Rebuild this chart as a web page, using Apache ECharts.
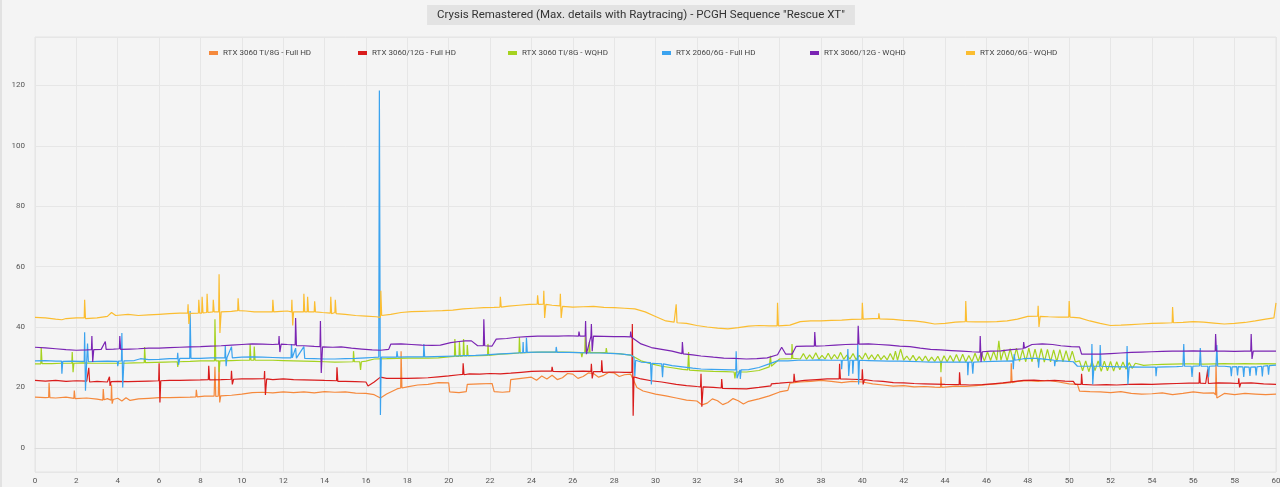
<!DOCTYPE html>
<html>
<head>
<meta charset="utf-8">
<script src="https://cdn.jsdelivr.net/npm/echarts@6/dist/echarts.min.js"></script>
<style>
  html, body { margin: 0; padding: 0; background: #f4f4f4; }
  #chart { width: 1280px; height: 487px; box-sizing: border-box; border-left: 2px solid #e2e2e2; }
</style>
</head>
<body>
<div id="chart"></div>
<script>
var chartTitle = 'Crysis Remastered (Max. details with Raytracing) - PCGH Sequence "Rescue XT"';
var seriesNames = [
  "RTX 3060 Ti/8G - Full HD",
  "RTX 3060/12G - Full HD",
  "RTX 3060 Ti/8G - WQHD",
  "RTX 2060/6G - Full HD",
  "RTX 3060/12G - WQHD",
  "RTX 2060/6G - WQHD",
];
var seriesColors = ["#f5893c", "#d91c1c", "#a5d21f", "#3ba3ef", "#7a24b3", "#fbbd30"];
var legendLefts = [207, 356, 506, 660, 808, 964];

// [seconds, frametime ms]
var ti8FullHd = [[0,16.8],[0.5,16.6],[0.66,16.7],[0.68,21.5],[0.72,16.6],[1,16.5],[1.5,16.8],[1.88,16.4],[1.9,19],[1.94,16.3],[2.5,16.5],[3,16.1],[3.28,15.8],[3.3,19.5],[3.34,15.9],[3.5,16.3],[3.68,15.8],[3.7,21],[3.73,14.6],[3.78,16],[4,16.4],[4.2,15.5],[4.4,16.6],[4.6,15.7],[5,16.2],[5.5,16.4],[6,16.6],[6.5,16.6],[7,16.7],[7.5,16.8],[7.78,16.9],[7.8,19.2],[7.84,16.9],[8.2,17.1],[8.66,17.1],[8.7,26.8],[8.74,17],[8.86,17.1],[8.9,28.8],[8.93,15],[8.98,17.2],[9.5,17.4],[10,17.8],[10.5,18.3],[11,18.4],[11.5,18.2],[12,18.5],[12.5,18.3],[13,18.5],[13.5,18.2],[14,18.6],[14.5,18.4],[15,18.5],[15.5,18.1],[16,18],[16.4,17.6],[16.7,16.5],[17,17.8],[17.5,19.5],[17.68,19.8],[17.7,32],[17.74,19.8],[18,20.2],[18.5,20.8],[19,21],[19.5,21.6],[20,21.5],[20.05,18.5],[20.5,18.3],[20.85,18.6],[20.9,21],[21.5,21.2],[22.1,21.3],[22.2,18.6],[22.6,18.4],[22.95,18.6],[23,22.6],[23.5,23],[24,23.4],[24.25,22.4],[24.5,23.8],[24.75,22.8],[25,24],[25.25,22.6],[25.5,23.2],[25.75,24.6],[26,24.4],[26.25,23],[26.5,23.6],[26.75,24.8],[27,24.6],[27.25,23.4],[27.5,24],[27.75,25],[28,24.8],[28.25,23.6],[28.5,24.2],[28.8,24.4],[29.1,20],[29.4,18.8],[30,17.8],[30.5,17.2],[31,16.5],[31.5,15.8],[32,15.5],[32.25,14.2],[32.5,14.8],[32.75,16.2],[33,15.6],[33.25,14.3],[33.5,15],[33.75,16.3],[34,15.6],[34.25,14.5],[34.5,15.4],[35,16.2],[35.5,17.2],[36,18.5],[36.4,19],[36.5,21.4],[37,21.8],[37.5,22],[38,22.3],[38.5,22],[39,21.6],[39.5,22],[40,21.8],[40.5,21.2],[41,20.8],[41.5,20.4],[42,20.6],[42.5,20.2],[43,20.3],[43.5,20.1],[43.78,20],[43.8,23.5],[43.84,20],[44.5,20.4],[45,20.3],[45.5,20.6],[46,20.9],[46.5,21.2],[47,21.5],[47.18,21.6],[47.2,28],[47.24,21.6],[47.5,22],[48,22.2],[48.5,22],[49,22.3],[49.5,21.8],[50,21.2],[50.4,21],[50.5,18.8],[51,18.6],[51.5,18.5],[52,18.3],[52.5,18.6],[53,18],[53.5,17.8],[54,17.9],[54.5,18.2],[55,17.6],[55.5,18],[56,18.5],[56.5,18.1],[57,18.2],[57.08,17.5],[57.1,28],[57.14,16.5],[57.5,18],[58,17.6],[58.5,18],[59,17.8],[59.5,17.6],[60,17.8]];

var r12FullHd = [[0,22.3],[0.5,22.1],[1,22.3],[1.5,22],[2,22.2],[2.5,22.1],[2.58,22],[2.6,26.5],[2.64,21.8],[3,22],[3.5,21.8],[3.58,21.6],[3.6,23.5],[3.63,20.5],[3.68,21.9],[4,22],[4.5,21.9],[5,22],[5.5,22.1],[5.98,22.2],[6,28],[6.04,15],[6.08,22.2],[6.5,22.3],[7,22.3],[7.5,22.4],[8,22.5],[8.38,22.6],[8.4,27.2],[8.44,22.5],[9,22.6],[9.48,22.7],[9.5,25.5],[9.54,21],[9.6,22.7],[10,22.8],[10.5,22.8],[11.08,22.9],[11.1,25.4],[11.14,17.5],[11.2,22.8],[11.5,22.6],[12,22.8],[12.5,22.6],[13,22.5],[13.5,22.4],[14,22.3],[14.58,22.2],[14.6,26.7],[14.64,22],[15,22],[15.5,21.9],[16,21.8],[16.1,20.5],[16.4,21.8],[16.7,23.4],[17,23],[17.5,23],[18,23],[18.5,23.1],[19,23.2],[19.5,23.5],[20,23.8],[20.5,24.2],[20.68,24.3],[20.7,28],[20.74,24.2],[21,24.5],[21.5,24.4],[22,24.6],[22.5,24.5],[23,24.7],[23.5,25],[24,25.3],[24.5,25.4],[24.98,25.4],[25,26.8],[25.04,25.3],[25.5,25.2],[26,25.3],[26.5,25.4],[26.88,25.3],[26.9,27.8],[26.94,23],[27,25.2],[27.38,25.2],[27.4,29],[27.44,25],[28,25.1],[28.5,25],[28.86,25],[28.88,41],[28.92,10.6],[28.96,23.5],[29.3,22.8],[29.8,22.2],[30.3,21.8],[31,21],[31.5,20.6],[32,20.3],[32.18,20.2],[32.2,24.5],[32.24,13.6],[32.3,20.2],[32.8,20],[33.18,19.8],[33.2,22.8],[33.24,19.7],[33.8,19.6],[34.4,19.5],[35,20],[35.58,20.5],[35.6,21.2],[35.64,20.6],[36,21.4],[36.68,21.8],[36.7,24.5],[36.74,21.9],[37.2,22.3],[37.8,22.6],[38.3,22.8],[38.88,22.8],[38.9,27.8],[38.94,22.8],[39.5,22.7],[39.98,22.6],[40,26],[40.04,21],[40.1,22.6],[40.5,22.2],[41,22],[41.5,21.6],[42,21.5],[42.5,21.3],[43,21.2],[43.5,21.1],[44,21],[44.68,20.9],[44.7,25],[44.74,20.9],[45.2,20.8],[45.8,20.9],[46.3,21.2],[46.8,21.5],[47.3,21.9],[47.8,22.3],[48.3,22.4],[48.8,22.2],[49.3,22.3],[49.8,22.1],[50.2,22],[50.3,21],[50.58,21],[50.6,24.5],[50.64,21],[51.2,20.8],[51.8,20.9],[52.3,20.8],[52.9,21],[53.5,21.1],[54,21],[54.6,21.2],[55.2,21.3],[55.8,21.4],[56.28,21.4],[56.3,25],[56.34,21.4],[56.6,21.3],[56.68,21.2],[56.7,26],[56.73,21.3],[57.2,21.5],[57.8,21.4],[58.18,21.3],[58.2,23],[58.24,20],[58.3,21.4],[58.8,21.5],[59.4,21.2],[60,21]];

var ti8Wqhd = [[0,27.8],[0.28,27.8],[0.3,33.4],[0.34,27.9],[0.8,27.9],[1.3,28],[1.78,28],[1.8,31.7],[1.84,25],[1.88,28],[2.3,28.1],[2.8,28],[3.3,28],[3.8,28],[4.3,28],[4.8,28.1],[5.28,28.2],[5.3,33.4],[5.34,28.2],[5.8,28.3],[6.3,28.4],[6.88,28.5],[6.9,26.8],[6.94,28.5],[7.5,28.6],[8,28.8],[8.5,28.8],[8.68,28.8],[8.7,42.6],[8.74,28.8],[8.88,28.8],[8.9,25],[8.94,28.8],[9.5,28.9],[10,29],[10.38,29],[10.4,34.4],[10.44,29],[10.58,29],[10.6,33.5],[10.64,29],[11,29],[11.5,29],[12,28.9],[12.5,28.8],[13,28.7],[13.5,28.6],[14,28.5],[14.5,28.4],[15.38,28.5],[15.4,32],[15.44,28.5],[15.7,28.5],[15.74,25.8],[15.78,28.5],[16,28.7],[16.4,29.4],[17,29.5],[17.5,29.6],[18,29.7],[18.5,29.7],[19,29.7],[19.5,29.8],[20.1,30.2],[20.28,30.3],[20.3,36],[20.34,30.3],[20.5,30.3],[20.52,35],[20.56,30.3],[20.7,30.4],[20.72,36],[20.76,30.4],[20.88,30.4],[20.9,34],[20.94,30.4],[21.5,30.5],[21.88,30.6],[21.9,34.4],[21.94,30.6],[22.5,31],[23,31.2],[23.4,31.4],[23.42,36.7],[23.46,31.4],[24,31.6],[24.5,31.7],[25,31.7],[25.5,31.7],[26,31.6],[26.4,31.5],[26.44,30],[26.48,31.5],[26.58,31.5],[26.6,36.7],[26.64,31.5],[26.78,31.5],[26.8,35],[26.84,31.5],[27.6,31.5],[27.62,33],[27.66,31.4],[28.2,31.2],[28.8,30.7],[29.3,28.8],[29.8,27.8],[30.3,27],[30.8,26.5],[31.3,26],[31.56,25.8],[31.6,31.7],[31.64,25.7],[32.2,25.5],[32.8,25.3],[33.4,25.2],[33.8,25.1],[33.84,23],[33.88,25.1],[34.4,25.1],[35,25.6],[35.5,26.8],[35.56,30.5],[35.6,27],[36,29.4],[36.58,29.5],[36.6,34.4],[36.64,29.6],
  [37,29.4],[37.15,31.2],[37.3,29.3],[37.45,30.8],[37.6,29.4],[37.75,31.5],[37.9,29.3],[38.05,30.6],[38.2,29.4],[38.35,31.3],[38.5,29.3],[38.65,30.9],[38.8,29.4],[38.95,31.6],[39.1,29.3],[39.25,30.7],[39.4,29.4],[39.55,31.2],[39.7,29.2],[39.85,30.6],[40,29.3],[40.15,31.4],[40.3,29.3],[40.45,30.8],[40.6,29.2],[40.75,31],[40.9,29.2],[41.05,30.5],[41.2,29.1],[41.35,31.2],[41.5,29.1],[41.6,32],[41.7,29],[41.85,32.7],[42,29],[42.15,30.4],[42.3,28.9],[42.45,30.6],[42.6,28.8],[42.75,30.2],[42.9,28.7],[43.05,30.4],[43.2,28.6],[43.35,30],[43.5,28.6],[43.65,30.3],[43.78,28.5],[43.8,25],[43.83,28.5],[43.95,30.5],[44.1,28.5],[44.25,30.6],[44.4,28.5],[44.55,30.9],[44.7,28.4],[44.85,31],[45,28.4],[45.15,30.6],[45.3,28.5],[45.45,31.3],[45.6,28.6],[45.75,31.6],[45.9,28.7],[46.05,31.8],[46.2,28.9],[46.35,32],[46.5,29],[46.6,35.4],[46.7,29],
  [46.85,32.5],[47,28.8],[47.15,32.8],[47.3,28.7],[47.45,33],[47.6,28.6],[47.75,32.5],[47.9,28.5],[48.05,33],[48.2,28.5],[48.35,32.7],[48.5,28.4],[48.65,32.8],[48.8,28.4],[48.95,32.6],[49.1,28.5],[49.25,32.4],[49.4,28.5],[49.55,32.5],[49.7,28.5],[49.85,32.2],[50,28.5],[50.15,32],[50.3,28.4],
  [50.5,28.8],[50.65,25.5],[50.8,28.8],[50.95,25.2],[51.1,28.7],[51.25,25.6],[51.4,28.8],[51.55,25.3],[51.7,28.7],[51.85,25.5],[52,28.6],[52.15,25.4],[52.3,28.5],[52.45,25.8],[52.6,28.4],[52.75,26],[52.9,28.2],[53.05,26.3],[53.2,28],[53.6,27.3],[54,27.5],[54.5,27.6],[55,27.7],[55.5,27.8],[56,27.8],[56.5,27.7],[57,27.8],[57.5,27.9],[58,27.8],[58.5,27.9],[59,27.8],[59.5,27.9],[60,27.8]];

var r2060FullHd = [[0,28.8],[0.5,28.9],[1,28.7],[1.28,28.7],[1.3,24.5],[1.34,28.6],[1.8,28.7],[2.2,28.6],[2.38,28.6],[2.4,38.3],[2.44,18.9],[2.5,28.7],[2.54,34.5],[2.58,28.5],[3,28.6],[3.5,28.7],[3.98,28.6],[4,27],[4.04,28.7],[4.18,28.8],[4.2,38],[4.24,20],[4.3,28.8],[4.8,28.9],[5.1,29.5],[5.5,29.2],[6,29.3],[6.5,29.5],[6.88,29.5],[6.9,31.5],[6.94,27.5],[7,29.6],[7.48,29.6],[7.5,45.3],[7.54,29.6],[8,29.6],[8.5,29.8],[9.18,29.8],[9.2,33.7],[9.24,27],[9.28,29.8],[9.5,33.5],[9.54,29.8],[10,30],[10.5,30.1],[11,30],[11.5,29.9],[12,29.8],[12.38,29.8],[12.4,34.4],[12.44,29.8],[12.6,33],[12.64,29.7],[13,33.5],[13.04,29.6],[13.5,29.5],[14,29.4],[14.5,29.4],[15,29.5],[15.5,29.6],[16,29.8],[16.3,29.9],[16.62,30],[16.65,118.3],[16.7,10.9],[16.74,30],[17,30],[17.48,30],[17.5,32],[17.54,30],[18,30.1],[18.5,30.1],[18.78,30.1],[18.8,34.4],[18.84,30.1],[19.3,30.2],[19.8,30.3],[20.3,30.4],[20.8,30.5],[21.3,30.6],[21.8,30.8],[22.3,31],[22.8,31.2],[23.3,31.4],[23.58,31.5],[23.6,35],[23.62,31.5],[23.74,31.6],[23.76,36.4],[23.8,31.6],[24.3,31.7],[24.8,31.7],[25.18,31.7],[25.2,33.4],[25.24,31.6],[25.8,31.6],[26.3,31.5],[26.8,31.4],[27.3,31.4],[27.8,31.3],[28.3,31.1],[28.8,30.7],[28.96,30],[29,23.8],[29.04,29],[29.3,28.4],[29.76,28.2],[29.8,21],[29.84,28],[30.3,27.8],[30.34,23.4],[30.38,27.8],[30.8,27.2],[31.3,26.8],[31.8,26.4],[32.2,26.1],[32.7,26],[33.2,25.9],[33.7,25.8],[33.88,25.8],[33.9,32],[33.94,23],[34.08,25.8],[34.1,22.8],[34.14,25.8],[34.5,25.9],[35,26.6],[35.5,27.8],[35.9,28.8],[36.4,28.8],[36.9,29],[37.4,29],[37.9,29.1],[38.4,29],[38.98,29],[39,26],[39.03,29],[39.28,29],[39.3,32.7],[39.34,23.8],[39.4,29],[39.52,29],[39.54,24.5],[39.58,29],[39.76,29],[39.78,34.4],[39.82,21],[39.86,29],[40.3,28.9],[40.8,28.8],[41.3,28.7],[41.8,28.7],[42.3,28.6],[42.8,28.5],[43.3,28.4],[43.8,28.4],[44.3,28.4],[44.8,28.4],[45.08,28.4],[45.1,24],[45.14,28.4],[45.3,28.4],[45.34,24.5],[45.38,28.4],[45.8,28.5],[46.3,28.6],[46.8,28.7],[47.28,28.8],[47.3,26],[47.34,31],[47.38,29],[47.8,29.5],[48.2,29.6],[48.5,29.6],[48.52,26.5],[48.56,29.5],[49,29.2],[49.28,29],[49.3,27],[49.34,28.9],[49.8,28.7],[50.2,28.5],[50.4,27],[50.8,27],[51.08,27],[51.1,34.4],[51.14,21],[51.2,27],[51.48,27],[51.5,34],[51.54,27],[52,26.9],[52.5,26.8],[52.78,26.8],[52.8,33.7],[52.84,21],[52.9,26.8],[53.5,26.7],[54.18,26.7],[54.2,23.7],[54.24,26.7],[54.7,26.8],[55.2,26.9],[55.5,27],[55.54,34.4],[55.58,27],[55.9,27],[55.94,23.5],[55.98,27],[56.3,27.1],[56.34,33],[56.38,27],[56.7,27],[56.74,23.4],[56.78,27],[57.1,27.1],[57.14,34],[57.18,27],[57.5,27],[57.8,26.8],[57.84,23.7],[57.88,26.8],[58.1,26.9],[58.14,24],[58.18,26.9],[58.4,26.8],[58.44,23.5],[58.48,26.8],[58.7,26.7],[58.74,23.8],[58.78,26.7],[59,26.8],[59.04,24],[59.08,26.8],[59.3,27],[59.34,23.6],[59.38,27],[59.6,27.2],[59.64,24.2],[59.68,27.2],[60,27.4]];

var r12Wqhd = [[0,33.3],[0.5,33.1],[1,32.8],[1.5,32.5],[2,32.3],[2.5,32.4],[2.73,32.5],[2.75,37],[2.79,28.4],[2.84,32.5],[3.2,32.6],[3.4,35.2],[3.44,32.6],[3.8,32.7],[4.08,32.8],[4.1,37],[4.14,32.6],[4.6,32.7],[5,32.8],[5.5,33],[6,33],[6.5,33.2],[7,33.3],[7.5,33.4],[8,33.5],[8.5,33.7],[9,33.8],[9.5,34],[10,34.2],[10.5,34.4],[11,34.3],[11.5,34.2],[11.78,34.3],[11.8,37],[11.84,31.7],[11.9,34.3],[12.2,34.2],[12.58,34.1],[12.6,43],[12.64,33.8],[13,33.8],[13.5,33.6],[13.78,33.5],[13.8,42],[13.84,24.8],[13.9,33.4],[14.4,33.3],[14.8,33.4],[15.3,33],[15.8,32.7],[16.3,32.4],[16.7,32.3],[17.1,32.6],[17.2,34.3],[17.7,34.4],[18.2,34.2],[18.7,34],[19.2,33.9],[19.6,34],[20.1,34.8],[20.5,35.2],[20.8,35.4],[21.1,35.4],[21.4,33.8],[21.68,33.8],[21.7,42.6],[21.74,33.8],[22.1,33.7],[22.3,36],[22.8,36.2],[23.3,36.6],[23.8,36.8],[24.3,37],[24.8,37],[25.3,37],[25.8,37.1],[26.28,37],[26.3,38.5],[26.34,37],[26.6,37],[26.62,42],[26.66,31],[26.88,37],[26.9,41],[26.94,32],[27,37],[27.5,36.9],[28,36.8],[28.5,36.8],[28.78,36.7],[28.8,38.5],[28.84,36.6],[29.3,34.4],[29.8,33.2],[30.3,32.6],[30.8,32],[31.28,31.2],[31.3,35],[31.34,31.1],[31.8,30.8],[32.2,30.4],[32.8,30],[33.3,29.7],[33.8,29.6],[34.4,29.4],[34.9,29.5],[35.4,29.8],[35.9,30.8],[36.1,33.3],[36.3,31],[36.6,31],[36.8,33.6],[37.3,33.7],[37.68,33.7],[37.7,38.3],[37.74,33.7],[38.2,33.8],[38.7,34],[39.2,34.2],[39.78,34.3],[39.8,40.4],[39.84,34.3],[40.3,34.4],[40.8,34.2],[41.3,34],[41.8,33.7],[42.3,33.5],[42.8,33],[43.3,32.6],[43.8,32.4],[44.3,32.2],[44.8,32],[45.3,31.8],[45.68,31.7],[45.7,37],[45.74,28.4],[45.8,31.8],[46.2,32],[46.7,32.1],[47.2,32.5],[47.78,32.8],[47.8,35],[47.84,33],[48.2,34.2],[48.7,34.4],[49.2,34.2],[49.6,33.8],[50.1,33.5],[50.5,33.4],[50.6,31],[51,31],[51.5,31],[52,31.2],[52.5,31.4],[53,31.6],[53.5,31.7],[54,31.8],[54.5,31.9],[55,32],[55.5,32],[56,32.1],[56.5,32],[57.06,32],[57.08,37.7],[57.12,32],[57.5,32],[58,31.9],[58.5,32],[58.78,32],[58.8,37.7],[58.84,29.4],[58.9,32],[59.4,32],[60,32]];

var r2060Wqhd = [[0,43.2],[0.5,43],[1,42.6],[1.3,42.4],[1.5,42.8],[2,43],[2.38,43],[2.4,49],[2.44,42.8],[2.5,42.5],[3,43],[3.5,43.5],[3.7,44.8],[3.9,43.8],[4.5,44.2],[5,43.8],[5.5,44],[6,44.2],[6.5,44.4],[7,44.6],[7.38,44.6],[7.4,47.5],[7.44,41],[7.5,44.5],[7.9,44.6],[7.92,49],[7.96,44.6],[8.06,44.6],[8.08,50],[8.12,44.7],[8.3,44.8],[8.32,51],[8.36,44.8],[8.6,45],[8.62,49],[8.66,45],[8.88,45],[8.9,57.5],[8.94,38],[9,45],[9.5,45.2],[9.8,45.4],[9.82,49.5],[9.86,45.4],[10.2,45.3],[10.6,45],[11,45],[11.48,45],[11.5,49],[11.54,45],[11.9,45.2],[12.2,45.3],[12.4,45],[12.42,49],[12.46,40.5],[12.5,45],[12.98,45],[13,51],[13.04,45],[13.16,45],[13.18,50],[13.22,45],[13.5,45],[13.52,48.5],[13.56,45],[13.9,44.8],[14.28,44.6],[14.3,50],[14.34,44.4],[14.5,44.8],[14.52,49],[14.56,44.4],[15,44.2],[15.5,43.8],[16,43.6],[16.5,43.4],[16.7,43.2],[16.72,52],[16.76,43.8],[17.2,44.2],[17.7,44.8],[18.2,45.1],[18.7,45.2],[19.2,45.3],[19.7,45.4],[20.2,45.6],[20.7,46],[21.2,46.2],[21.7,46.4],[22.2,46.5],[22.48,46.6],[22.5,50],[22.54,46.6],[22.9,46.9],[23.4,47.2],[23.9,47.5],[24.28,47.6],[24.3,50.5],[24.34,47.5],[24.58,47.6],[24.6,52],[24.64,43],[24.7,47.5],[25,47.2],[25.38,47],[25.4,51],[25.44,43],[25.5,46.8],[26,46.6],[26.5,46.7],[27,46.8],[27.5,46.5],[28,46.4],[28.5,46.2],[29,46],[29.5,45],[30,43.5],[30.5,42],[30.9,41.6],[30.98,41.5],[31,47.5],[31.04,41.4],[31.5,41.2],[32,40.5],[32.5,40],[33,39.6],[33.5,39.4],[34,39.8],[34.5,40.3],[35,40.5],[35.5,40.4],[35.88,40.4],[35.9,48],[35.94,40.4],[36.5,40.6],[37,41.8],[37.5,42],[38,42],[38.5,42.2],[39,42.3],[39.5,42.5],[39.98,42.6],[40,48],[40.04,42.6],[40.5,42.8],[40.78,42.8],[40.8,44.5],[40.84,42.7],[41.5,42.5],[42,42.2],[42.5,42],[43,41.6],[43.5,41],[44,41.2],[44.5,41.6],[44.98,41.8],[45,48.6],[45.04,41.8],[45.5,41.7],[46,41.7],[46.5,41.8],[47,42],[47.5,42.6],[48,43.5],[48.48,43.6],[48.5,47],[48.54,40],[48.6,43.5],[49,43.4],[49.5,43.3],[49.98,43.3],[50,48.6],[50.04,43.3],[50.5,43],[51,42],[51.5,41.2],[52,40.5],[52.5,40.6],[53,40.8],[53.5,41],[54,41.2],[54.5,41.3],[54.98,41.4],[55,46.6],[55.04,41.4],[55.5,41.5],[56,41.8],[56.5,41.6],[57,41.3],[57.5,41],[58,41.2],[58.5,41.5],[59,42],[59.5,42.6],[59.9,43],[60,48]];

var seriesData = [ti8FullHd, r12FullHd, ti8Wqhd, r2060FullHd, r12Wqhd, r2060Wqhd];

var chartDom = document.getElementById("chart");
var chart = echarts.init(chartDom);
var fontFamily = "Roboto, sans-serif";

var series = [];
var legends = [];
for (var i = 0; i < seriesNames.length; i++) {
  series.push({
    name: seriesNames[i],
    type: "line",
    data: seriesData[i],
    showSymbol: false,
    symbol: "none",
    animation: false,
    lineStyle: { width: 1.2, color: seriesColors[i] },
    itemStyle: { color: seriesColors[i] },
  });
  // one legend per series so each entry sits at its own slot
  legends.push({
    top: 49,
    left: legendLefts[i],
    padding: 0,
    itemWidth: 9,
    itemHeight: 4,
    icon: "rect",
    textStyle: { fontSize: 8, color: "#444", fontFamily: fontFamily },
    data: [seriesNames[i]],
  });
}

var option = {
  backgroundColor: "#f4f4f4",
  textStyle: { fontFamily: fontFamily },
  title: {
    text: chartTitle,
    left: "center",
    top: 5,
    padding: [4, 10, 4, 10],
    backgroundColor: "#e3e3e3",
    textStyle: { fontSize: 11.5, fontWeight: "normal", color: "#333", fontFamily: fontFamily },
  },
  legend: legends,
  grid: {
    left: 33,
    right: 4,
    top: 37,
    bottom: 15,
    containLabel: false,
    outerBoundsMode: "none",
    show: true,
    borderColor: "#e4e4e4",
    borderWidth: 1,
  },
  xAxis: {
    type: "value",
    min: 0,
    max: 60,
    interval: 2,
    axisLine: { lineStyle: { color: "#dcdcdc" } },
    axisTick: { show: false },
    axisLabel: { fontSize: 8, color: "#555", margin: 5 },
    splitLine: { lineStyle: { color: "#e6e6e6" } },
  },
  yAxis: {
    type: "value",
    min: -8,
    max: 136,
    splitNumber: 7,
    name: "Frametime [ms]",
    nameLocation: "middle",
    nameGap: 23,
    nameTextStyle: { fontSize: 8, color: "#444" },
    axisLine: { show: false },
    axisTick: { show: false },
    axisLabel: { fontSize: 8, color: "#555", margin: 10, showMinLabel: false, showMaxLabel: false },
    splitLine: { lineStyle: { color: "#e6e6e6" } },
  },
  series: series,
};

chart.setOption(option);
</script>
</body>
</html>
